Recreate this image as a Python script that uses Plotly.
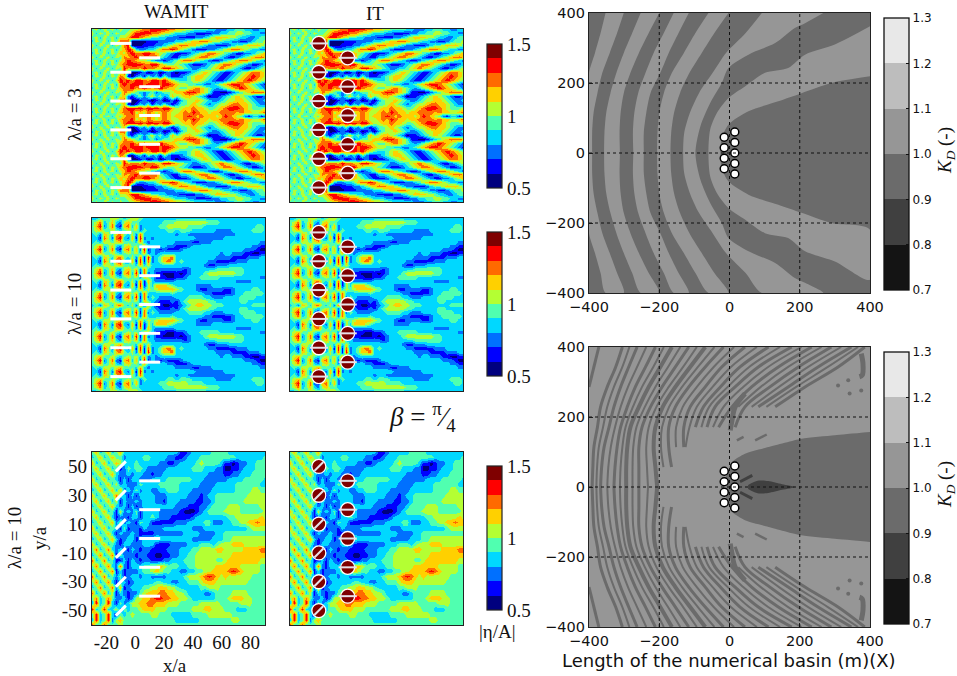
"""
Wave field panels (WAMIT / IT) and disturbance coefficient maps.
Field values are band numbers read off the picture, coarse grids only.
"""
import numpy as np
import plotly.graph_objects as go

# band numbers 0-9 -> 0.5..1.5 in steps of 0.1, upper half, centre row last
FIELD_L3 = [
    "45354535445 56778888776 65544443322 23344332233",
    "53545354456 88887765543 33221111223 34455443322",
    "45354535568 87654433222 11112234566 65543322344",
    "35453547770 00011122223 34566776554 33221123445",
    "53545354780 00111223456 77665432211 12344566654",
    "45354535687 32233467787 54321112234 56776543322",
    "35453546578 77887654321 11234567765 43211223456",
    "53545354767 86777743211 33456776543 21123456776",
    "45354535687 65543221234 67765432112 34567765432",
    "35453546788 88778865445 43211123456 77654321123",
    "53545354867 76877668876 54322334567 65432112345",
    "45354535720 01201201210 11234565432 11234567765",
    "35453547610 23142314211 23456654321 12345678765",
    "53545358786 88768878654 33456543211 23456787654",
    "45354537878 88788878876 55443322345 67887654321",
    "35453546778 67876787665 44567654323 45678765432",
    "53545354765 43234234456 67887654110 01234567776",
    "45354535621 34245342364 56654320112 34565432112",
    "35453547720 01210120120 34556543223 45566543223",
    "53545354610 13241324212 44565432345 56776654322",
    "45354535788 88788878865 56676654456 78887654445",
    "35453546778 56576567655 67687665667 77767665567",
    "53545354677 65676567656 67876766656 87654213312",
]
FIELD_L10 = [
    "33444554345 54333333333 33333333333 33333333333",
    "45734632564 43333334445 55555554443 33333333333",
    "46824721673 62333344555 55444433333 33333333443",
    "45644543454 52433333443 44433333322 22333334443",
    "34265367435 27333333332 33222222222 22233333333",
    "33175278326 18232333333 33332222222 33333333333",
    "34355456444 36323333332 22211222333 33333333322",
    "45734632564 52733333221 11233333333 33333332211",
    "46824721673 62813212111 23333333333 33333222100",
    "45644543454 53623233333 33333333332 33222110011",
    "34265367435 27182346673 33333333322 22111122233",
    "33175278326 18172346763 43333332211 11122233333",
    "34355456444 36353333333 33333321122 23333333333",
    "45734632564 62733222222 21233333344 44444333333",
    "46824721673 81723110001 01233345555 55544333333",
    "45644543454 52643111001 12333444443 33333333322",
    "34265367435 27163222223 33333333333 33322223333",
    "33175278326 18153666543 33332222333 33333333333",
    "34355456444 36354566665 43332112222 11233334433",
    "45734632564 62733333343 33333322111 11233444443",
    "46824721673 81724322223 33444433222 33334444333",
    "45644543454 52643211121 34555554433 33334433333",
    "34265367435 27163110011 23456655444 33333334444",
]
# oblique case is not symmetric, all rows top to bottom
FIELD_OBLIQUE = [
    "46346346333 33333333333 11233333444 43333333333",
    "34634644233 33443333221 12333444444 44433333334",
    "63463465333 43333322112 33334544443 11012233444",
    "46346341243 44322222333 33344433322 00112333444",
    "34634632232 33221223333 33333332222 11223334444",
    "63463431313 32223333444 44433322222 23333444443",
    "46346352322 24333344444 33333222233 33344444433",
    "34634636232 42332233444 33322222333 33344445544",
    "63463473313 13333222333 33222123344 44444455555",
    "46346351322 32333221333 22221122344 44444555555",
    "34634632313 12333333332 22111223444 45554444455",
    "63463415232 41333322222 10001234444 55554444445",
    "46346312213 31334322211 11123333333 34455555565",
    "34634624232 14331111112 22333344222 33445566766",
    "63463431412 21322223333 33322233333 33333345555",
    "46346313223 21111222222 23333222233 44444444444",
    "34634631233 12333433333 33322222333 44555555555",
    "63463421332 22333111122 22333444345 55666555555",
    "47347323213 21221111222 33344555566 55555666677",
    "34734714222 12211001122 33445555555 55666666666",
    "73473411313 21221112233 34445555544 56666666655",
    "47347327213 33445565444 33445555566 66665555544",
    "34734713122 23445654433 22334455666 67876555544",
    "73473424123 32332222333 34555678765 65555554444",
    "47347313312 33333443322 33444566655 55555544444",
    "34734726123 33445566554 33333445554 44444444444",
    "73473513212 24566677665 54333322344 44555544444",
    "47347422312 55667887766 55433333344 45666554444",
    "38348314235 56677666555 44444555554 44445554444",
    "83483352434 45666555444 44455566555 44433344444",
    "48348314345 44445544433 33344445555 55444444444",
    "38348256444 44444444443 33333444444 44554444444",
    "83483445444 44444444444 44444444444 44444444444",
]

# upper map, band boundaries in metres, upper half only (lower half is its mirror)
KD_Y = [400, 343, 286, 229, 171, 114, 57, 0]
KD_B1_X = [-353, -367, -383, -400, -400, -400, -400, -400]
KD_B2_X = [-301, -320, -341, -362, -376, -387, -391, -391]
KD_B3_X = [-253, -277, -301, -322, -339, -351, -356, -357]
KD_B4_X = [-200, -230, -258, -282, -301, -310, -313, -312]
KD_B5_X = [-159, -187, -216, -239, -260, -271, -275, -274]
KD_B6_X = [-116, -145, -173, -197, -225, -237, -244, -244]
KD_B7_X = [-60, -97, -130, -164, -187, -200, -205, -206]
KD_B8_X = [-3, -43, -79, -114, -141, -158, -166, -168]
KD_B9_X = [92, 46, -10, -48, -87, -113, -129, -132]
KD_B10_X = [267, 215, 186, 130, 54, -3, -22, -55, -83, -97]
KD_B10_Y = [400, 371, 357, 314, 281, 243, 200, 143, 76, 0]
KD_B11_X = [400, 300, 215, 167, 101, 44, -3, -36, -55, -60]
KD_B11_Y = [362, 310, 281, 243, 229, 190, 157, 114, 67, 0]
KD_B12_X = [400, 290, 205, 139, 54, -3, -22, -26]
KD_B12_Y = [219, 200, 171, 148, 119, 81, 43, 0]

# lower map, thin dark streaks read at the same KD_Y rows
KD_STREAKS = [
    [-372, -386, -400],
    [-305, -324, -348, -367, -376, -386, -389, -391],
    [-285, -305, -329, -348, -360, -372, -377, -379],
    [-263, -287, -310, -329, -343, -357, -364, -367],
    [-237, -263, -289, -310, -326, -338, -345, -348],
    [-211, -239, -268, -291, -310, -320, -326, -329],
    [-187, -217, -249, -275, -296, -305, -310, -312],
    [-164, -197, -230, -258, -282, -291, -294, -294],
    [-140, -175, -211, -241, -265, -274, -276, -276],
    [-116, -154, -192, -225, -249, -258, -258, -258],
    [-93, -132, -173, -208, -230, -237, -235, -232],
    [-69, -112, -154, -190, -211, -216, -211, -206],
    [-43, -90, -135, -172, -192, -195, -188],
    [-17, -69, -116, -154, -173, -173, -165],
    [13, -45, -93, -133, -152, -152],
    [44, -22, -69, -112, -130, -130],
    [78, 4, -48, -93, -114, -125],
    [111, 30, -26, -74, -97],
    [144, 56, -5, -58, -80],
    [177, 82, 16, -41, -64],
    [205, 110, 39, -17, -47],
    [234, 139, 63, 7, -31],
    [262, 167, 89, 25],
    [290, 196, 115, 44, 16],
    [318, 224, 141, 63],
    [347, 252, 167, 82],
    [366, 280, 190, 105],
    [385, 309, 215, 130],
]
KD_STREAK_WIDTH = [3, 3, 2, 3, 2, 3, 2, 4, 2, 3, 2, 4, 2, 3, 2, 3, 2, 3, 2, 3, 2, 3, 2, 3, 2, 3, 2, 3]
KD_SHORT_X = [[21, 40], [73, 106], [375, 380, 378, 370], [44, 16, 7, 2]]
KD_SHORT_Y = [[133, 143], [133, 150], [381, 352, 320, 315], [267, 229, 190, 162]]
KD_SHORT_WIDTH = [2.5, 2.5, 5, 5]
KD_SPOT_X = [338, 375, 309, 342]
KD_SPOT_Y = [305, 276, 290, 267]
KD_WAKE_X = [400, 300, 205, 111, 44, 7, -12, -8]
KD_WAKE_Y = [157, 148, 138, 114, 95, 71, 19, 0]
KD_CORE_X = [53, 80, 110, 150, 186]
KD_CORE_Y = [6, 18, 17, 8, 0]
KD_FINGER_X = [30, 65]
KD_FINGER_Y = [15, 33]

KD_TOP_BASE = 0.95
KD_LOW_BASE = 1.05

FRONT_Y = [50, 30, 10, -10, -30, -50]
BACK_Y = [40, 20, 0, -20, -40]
FRONT_X = [-10] * 6
BACK_X = [10] * 5

KD_X1 = [-15, -15, -15, -15]
KD_Y1 = [45, 15, -15, -45]
KD_X2 = [15, 15, 15, 15, 15]
KD_Y2 = [60, 30, 0, -30, -60]

FIELD_X_TICKS = [-20, 0, 20, 40, 60, 80]
FIELD_Y_TICKS = [50, 30, 10, -10, -30, -50]
KD_TICKS = [-400, -200, 0, 200, 400]
KD_BAR_TICKS = [0.7, 0.8, 0.9, 1.0, 1.1, 1.2, 1.3]
FIELD_BAR_TICKS = [0.5, 1, 1.5]

JET = ["#00007f", "#0000ff", "#0070ff", "#00d8ff", "#50ffb0",
       "#b4ff33", "#ffd000", "#ff6a00", "#ff0000", "#7f0000"]
GREYS = ["#141414", "#404040", "#6b6b6b", "#969696", "#bdbdbd", "#e8e8e8"]

W, H = 957, 676
SERIF = "Liberation Serif"
SANS = "DejaVu Sans"


def stepped(colors):
    n = len(colors)
    out = []
    for i, c in enumerate(colors):
        out.append([i / n, c])
        out.append([(i + 1) / n, c])
    return out


def parse_rows(rows, n=44):
    z = []
    for r in rows:
        r = r.replace(" ", "")
        r = r.ljust(n, r[-1])[:n]
        z.append([0.55 + 0.1 * int(c) for c in r])
    return z


def mirror(rows):
    return rows + rows[-2::-1]


def both_halves(xs, ys):
    # upper half top to centre, then the mirrored part centre to bottom
    return list(xs) + list(xs[-2::-1]), list(ys) + [-v for v in ys[-2::-1]]


def band(fig, sfx, left, right, color):
    lx, ly = both_halves(*left)
    rx, ry = both_halves(*right)
    fig.add_trace(go.Scatter(
        x=lx + rx[::-1], y=ly + ry[::-1], mode="lines", fill="toself", fillcolor=color,
        line=dict(width=0, shape="spline", smoothing=0.8),
        xaxis="x" + sfx, yaxis="y" + sfx, hoverinfo="skip", showlegend=False))


def dom(a, b, size):
    return [a / size, b / size]


def dom_y(top, bottom):
    return [1 - bottom / H, 1 - top / H]


fig = go.Figure()

# pixel boxes of the eight panels
COLS = [(92, 265), (290, 463)]
ROWS = [(29, 202), (218, 391), (452, 625)]
BAR_TOPS = [44, 232, 466]

field_x = np.linspace(-30, 90, 44)
fields = [
    (mirror(parse_rows(FIELD_L3)), 45),
    (mirror(parse_rows(FIELD_L10)), 45),
    (parse_rows(FIELD_OBLIQUE), 33),
]

ax = 0
for r, (z, nrows) in enumerate(fields):
    field_y = np.linspace(60, -60, nrows)
    for c in range(2):
        ax += 1
        sfx = "" if ax == 1 else str(ax)
        trace = dict(
            x=field_x, y=field_y[::-1], z=z[::-1],
            xaxis="x" + sfx, yaxis="y" + sfx,
            zmin=0.5, zmax=1.5, colorscale=stepped(JET), zsmooth="best",
            hoverinfo="skip", showscale=False,
        )
        if c == 1:
            trace["showscale"] = True
            trace["colorbar"] = dict(
                x=487 / W, xanchor="left", y=1 - BAR_TOPS[r] / H, yanchor="top",
                len=144, lenmode="pixels", thickness=15, thicknessmode="pixels",
                xpad=0, ypad=0, outlinewidth=1.2, outlinecolor="#222",
                tickmode="array", tickvals=FIELD_BAR_TICKS,
                ticktext=["0.5", "1", "1.5"], ticks="",
                tickfont=dict(family=SERIF, size=19, color="#111"),
            )
        fig.add_trace(go.Heatmap(**trace))

        tilt = r == 2
        if c == 0:
            fig.add_trace(go.Scatter(
                x=FRONT_X, y=FRONT_Y, mode="markers", xaxis="x" + sfx, yaxis="y" + sfx,
                marker=dict(symbol="line-ne" if tilt else "line-ew", size=10 if tilt else 15,
                            line=dict(color="white", width=3)),
                hoverinfo="skip", showlegend=False))
            fig.add_trace(go.Scatter(
                x=BACK_X, y=BACK_Y, mode="markers", xaxis="x" + sfx, yaxis="y" + sfx,
                marker=dict(symbol="line-ew", size=15, line=dict(color="white", width=3)),
                hoverinfo="skip", showlegend=False))
        else:
            fig.add_trace(go.Scatter(
                x=FRONT_X + BACK_X, y=FRONT_Y + BACK_Y, mode="markers",
                xaxis="x" + sfx, yaxis="y" + sfx,
                marker=dict(symbol="circle", size=14, color="#7f0000",
                            line=dict(color="white", width=1.3)),
                hoverinfo="skip", showlegend=False))
            fig.add_trace(go.Scatter(
                x=FRONT_X, y=FRONT_Y, mode="markers", xaxis="x" + sfx, yaxis="y" + sfx,
                marker=dict(symbol="line-ne" if tilt else "line-ew", size=9 if tilt else 13,
                            line=dict(color="#e8e0e8", width=2)),
                hoverinfo="skip", showlegend=False))
            fig.add_trace(go.Scatter(
                x=BACK_X, y=BACK_Y, mode="markers", xaxis="x" + sfx, yaxis="y" + sfx,
                marker=dict(symbol="line-ew", size=13, line=dict(color="#e8e0e8", width=2)),
                hoverinfo="skip", showlegend=False))

        show = r == 2 and c == 0
        fig.update_layout({
            "xaxis" + sfx: dict(
                domain=dom(*COLS[c], W), range=[-30, 90], anchor="y" + sfx,
                showgrid=False, zeroline=False, showline=True, mirror=True,
                linecolor="#222", linewidth=1.3, ticks="",
                showticklabels=show,
                tickmode="array", tickvals=FIELD_X_TICKS,
                ticktext=[str(t) for t in FIELD_X_TICKS],
                tickfont=dict(family=SERIF, size=19, color="#111")),
            "yaxis" + sfx: dict(
                domain=dom_y(*ROWS[r]), range=[-60, 60], anchor="x" + sfx,
                showgrid=False, zeroline=False, showline=True, mirror=True,
                linecolor="#222", linewidth=1.3, ticks="",
                showticklabels=show,
                tickmode="array", tickvals=FIELD_Y_TICKS,
                ticktext=[str(t) for t in FIELD_Y_TICKS],
                tickfont=dict(family=SERIF, size=19, color="#111")),
        })

# right hand maps
KD_ROWS = [(13, 293), (347, 627)]
KD_BAR_TOPS = [18, 352]
KD_BASES = [KD_TOP_BASE, KD_LOW_BASE]

for k in range(2):
    ax += 1
    sfx = str(ax)
    b = KD_BASES[k]
    fig.add_trace(go.Heatmap(
        x=[-400, 400], y=[-400, 400], z=[[b, b], [b, b]], xaxis="x" + sfx, yaxis="y" + sfx,
        zmin=0.7, zmax=1.3, colorscale=stepped(GREYS), hoverinfo="skip",
        colorbar=dict(
            x=884 / W, xanchor="left", y=1 - KD_BAR_TOPS[k] / H, yanchor="top",
            len=272, lenmode="pixels", thickness=25, thicknessmode="pixels",
            xpad=0, ypad=0, outlinewidth=1.3, outlinecolor="#111",
            tickmode="array", tickvals=KD_BAR_TICKS, ticktext=[f"{t:.1f}" for t in KD_BAR_TICKS],
            ticks="inside", ticklen=3, tickcolor="#111",
            tickfont=dict(family=SANS, size=12, color="#111")),
    ))
    if k == 0:
        light = GREYS[3]
        band(fig, sfx, (KD_B1_X, KD_Y), (KD_B2_X, KD_Y), light)
        band(fig, sfx, (KD_B3_X, KD_Y), (KD_B4_X, KD_Y), light)
        band(fig, sfx, (KD_B5_X, KD_Y), (KD_B6_X, KD_Y), light)
        band(fig, sfx, (KD_B7_X, KD_Y), (KD_B8_X, KD_Y), light)
        band(fig, sfx, (KD_B9_X, KD_Y), (KD_B10_X, KD_B10_Y), light)
        band(fig, sfx, (KD_B11_X, KD_B11_Y), (KD_B12_X, KD_B12_Y), light)
    else:
        dark = GREYS[2]
        for xs, w in zip(KD_STREAKS, KD_STREAK_WIDTH):
            ys = KD_Y[:len(xs)]
            line = dict(color=dark, width=w, shape="spline")
            fig.add_trace(go.Scatter(x=xs, y=ys, mode="lines", line=line, xaxis="x" + sfx,
                                     yaxis="y" + sfx, hoverinfo="skip", showlegend=False))
            fig.add_trace(go.Scatter(x=xs, y=[-v for v in ys], mode="lines", line=line, xaxis="x" + sfx,
                                     yaxis="y" + sfx, hoverinfo="skip", showlegend=False))
        for xs, ys, w in zip(KD_SHORT_X, KD_SHORT_Y, KD_SHORT_WIDTH):
            line = dict(color=dark, width=w, shape="spline")
            fig.add_trace(go.Scatter(x=xs, y=ys, mode="lines", line=line, xaxis="x" + sfx,
                                     yaxis="y" + sfx, hoverinfo="skip", showlegend=False))
            fig.add_trace(go.Scatter(x=xs, y=[-v for v in ys], mode="lines", line=line, xaxis="x" + sfx,
                                     yaxis="y" + sfx, hoverinfo="skip", showlegend=False))
        fig.add_trace(go.Scatter(
            x=KD_SPOT_X + KD_SPOT_X, y=KD_SPOT_Y + [-v for v in KD_SPOT_Y], mode="markers",
            marker=dict(color=dark, size=4), xaxis="x" + sfx, yaxis="y" + sfx,
            hoverinfo="skip", showlegend=False))
        wx, wy = both_halves(KD_WAKE_X, KD_WAKE_Y)
        fig.add_trace(go.Scatter(
            x=wx, y=wy, mode="lines", fill="toself", fillcolor=dark,
            line=dict(width=0, shape="spline", smoothing=0.6), xaxis="x" + sfx, yaxis="y" + sfx,
            hoverinfo="skip", showlegend=False))
        core_x = KD_CORE_X + KD_CORE_X[-2::-1]
        core_y = KD_CORE_Y + [-v for v in KD_CORE_Y[-2::-1]]
        fig.add_trace(go.Scatter(
            x=core_x, y=core_y, mode="lines", fill="toself", fillcolor=GREYS[1],
            line=dict(width=0, shape="spline", smoothing=0.8), xaxis="x" + sfx, yaxis="y" + sfx,
            hoverinfo="skip", showlegend=False))
        for sign in (1, -1):
            fig.add_trace(go.Scatter(
                x=KD_FINGER_X, y=[sign * v for v in KD_FINGER_Y], mode="lines",
                line=dict(color=GREYS[1], width=3), xaxis="x" + sfx, yaxis="y" + sfx,
                hoverinfo="skip", showlegend=False))
    for px, py in ((KD_X1, KD_Y1), (KD_X2, KD_Y2)):
        fig.add_trace(go.Scatter(
            x=px, y=py, mode="markers", xaxis="x" + sfx, yaxis="y" + sfx,
            marker=dict(symbol="circle", size=8, color="white", line=dict(color="black", width=1.5)),
            hoverinfo="skip", showlegend=False))
    fig.update_layout({
        "xaxis" + sfx: dict(
            domain=dom(589, 870, W), range=[-400, 400], anchor="y" + sfx,
            showgrid=False, zeroline=False, showline=True, mirror=True,
            linecolor="#222", linewidth=1.3, ticks="inside", ticklen=4, tickcolor="#222",
            tickmode="array", tickvals=KD_TICKS,
            tickfont=dict(family=SANS, size=14.5, color="#111")),
        "yaxis" + sfx: dict(
            domain=dom_y(*KD_ROWS[k]), range=[-400, 400], anchor="x" + sfx,
            showgrid=False, zeroline=False, showline=True, mirror=True,
            linecolor="#222", linewidth=1.3, ticks="inside", ticklen=4, tickcolor="#222",
            tickmode="array", tickvals=KD_TICKS,
            tickfont=dict(family=SANS, size=14.5, color="#111")),
    })
    for t in KD_TICKS[1:-1]:
        fig.add_shape(type="line", xref="x" + sfx, yref="y" + sfx, x0=t, x1=t, y0=-400, y1=400,
                      line=dict(color="#111", width=1, dash="dot"))
        fig.add_shape(type="line", xref="x" + sfx, yref="y" + sfx, x0=-400, x1=400, y0=t, y1=t,
                      line=dict(color="#111", width=1, dash="dot"))


def note(text, x, y, size, family=SERIF, angle=0):
    fig.add_annotation(text=text, x=x / W, y=1 - y / H, xref="paper", yref="paper",
                       showarrow=False, textangle=angle, xanchor="center", yanchor="middle",
                       font=dict(family=family, size=size, color="#111"))


note("WAMIT", 176, 12, 19)
note("IT", 375, 13, 19)
note("λ/a = 3", 74, 115, 19, angle=-90)
note("λ/a = 10", 74, 304, 19, angle=-90)
note("λ/a = 10", 14, 538, 19, angle=-90)
note("y/a", 39, 538, 19, angle=-90)
note("x/a", 175, 665, 19)
note("|η/A|", 497, 631, 19)
note("<i>β</i> = <sup>π</sup>⁄<sub>4</sub>", 422, 417, 27)
note("<i>K<sub>D</sub></i> (-)", 946, 151, 19, angle=-90)
note("<i>K<sub>D</sub></i> (-)", 946, 485, 19, angle=-90)
note("Length of the numerical basin (m)(X)", 729, 660, 18, family=SANS)

fig.update_layout(width=W, height=H, autosize=False, showlegend=False,
                  margin=dict(l=0, r=0, t=0, b=0, autoexpand=False),
                  paper_bgcolor="white", plot_bgcolor="white")

fig.write_html("out.html", config={"displayModeBar": False},
               post_script="document.body.style.margin='0';")
